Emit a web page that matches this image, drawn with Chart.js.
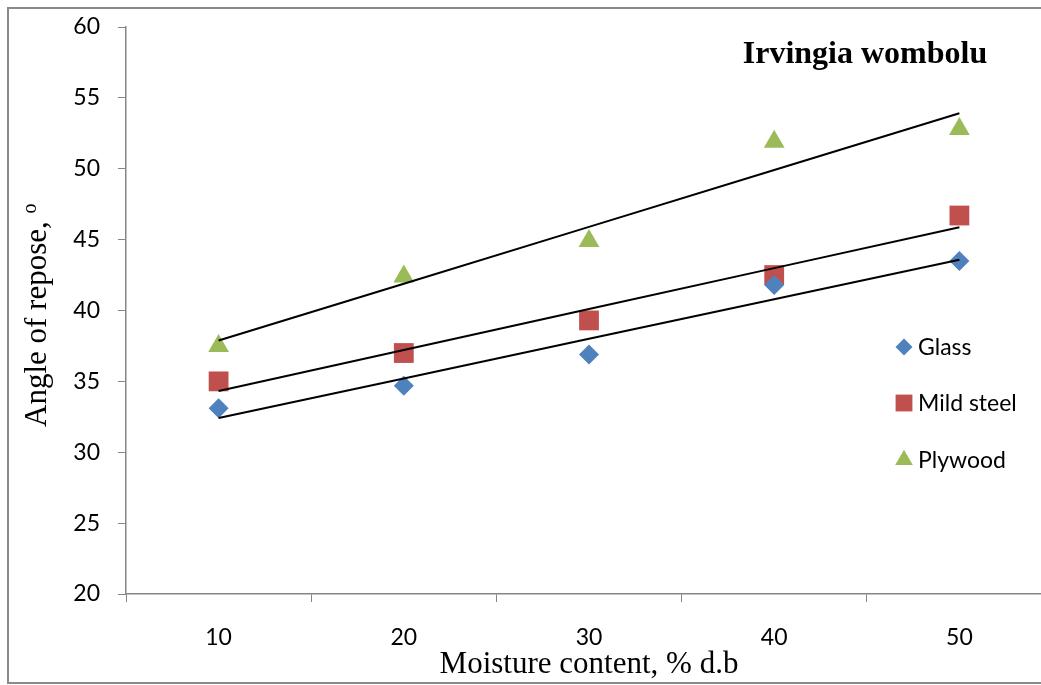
<!DOCTYPE html>
<html>
<head>
<meta charset="utf-8">
<script src="https://cdn.jsdelivr.net/npm/chart.js@4"></script>
<style>
  html, body { margin: 0; padding: 0; background: #fff; overflow: hidden; }
  canvas { display: block; }
</style>
</head>
<body>
<canvas id="c" width="1066" height="685"></canvas>
<script>
// Data
const categories = ['10', '20', '30', '40', '50'];
const glass = [33.1, 34.7, 36.9, 41.8, 43.5];
const mildSteel = [35.0, 37.0, 39.3, 42.5, 46.7];
const plywood = [37.5, 42.4, 44.9, 51.9, 52.8];
const seriesNames = ['Glass', 'Mild steel', 'Plywood'];
const yMin = 20, yMax = 60, yStep = 5;

const colors = ['#4F81BD', '#C0504D', '#9BBB59'];
const styles = ['rectRot', 'rect', 'triangle'];
const radii = [10, 14, 12];

// least squares trend over category index (like Excel's linear trendline)
function trend(vals) {
  const n = vals.length;
  const xs = vals.map((v, i) => i + 1);
  const mx = xs.reduce((a, b) => a + b, 0) / n;
  const my = vals.reduce((a, b) => a + b, 0) / n;
  let num = 0, den = 0;
  xs.forEach((x, i) => { num += (x - mx) * (vals[i] - my); den += (x - mx) * (x - mx); });
  const b = num / den;
  return xs.map(x => my + b * (x - mx));
}

const serif = "'Liberation Serif', 'Times New Roman', serif";
const sans = "Lato, 'Open Sans', sans-serif";

const series = [glass, mildSteel, plywood];
const datasets = [];
series.forEach((vals, i) => {
  datasets.push({
    label: seriesNames[i],
    data: vals,
    showLine: false,
    pointStyle: styles[i],
    pointRadius: radii[i],
    pointHoverRadius: radii[i],
    pointBackgroundColor: colors[i],
    pointBorderWidth: 0,
    order: 1
  });
});
series.forEach((vals, i) => {
  datasets.push({
    label: seriesNames[i] + ' trend',
    data: trend(vals),
    borderColor: '#000',
    borderWidth: 2,
    pointRadius: 0,
    fill: false,
    order: 0
  });
});

function noPad(s) {
  s.paddingTop = 0; s.paddingBottom = 0; s.paddingLeft = 0; s.paddingRight = 0;
}

const decor = {
  id: 'decor',
  beforeDraw(chart) {
    const ctx = chart.ctx;
    ctx.save();
    ctx.fillStyle = '#fff';
    ctx.fillRect(0, 0, chart.width, chart.height);
    ctx.strokeStyle = '#8a8a8a';
    ctx.lineWidth = 2;
    ctx.strokeRect(8, 8, 1100, 675);
    ctx.restore();
  },
  afterDraw(chart) {
    const ctx = chart.ctx;
    ctx.save();
    // title
    ctx.fillStyle = '#000';
    ctx.font = "bold 32px " + serif;
    ctx.textAlign = 'center';
    ctx.textBaseline = 'alphabetic';
    ctx.fillText('Irvingia wombolu', 865, 63);

    // y axis title with superscript
    ctx.translate(46, 427);
    ctx.rotate(-Math.PI / 2);
    ctx.textAlign = 'left';
    ctx.font = "31px " + serif;
    const main = 'Angle of repose, ';
    ctx.fillText(main, 0, 0);
    const w = ctx.measureText(main).width;
    ctx.font = "20px " + serif;
    ctx.fillText('o', w, -10);
    ctx.restore();

    // legend
    ctx.save();
    const ys = [347, 403, 460];
    seriesNames.forEach((name, i) => {
      ctx.fillStyle = colors[i];
      Chart.helpers.drawPoint(ctx, {
        pointStyle: styles[i], radius: radii[i] * 0.85, rotation: 0, borderWidth: 0
      }, 904, ys[i]);
      ctx.fillStyle = '#000';
      ctx.font = "23px " + sans;
      ctx.textAlign = 'left';
      ctx.textBaseline = 'middle';
      ctx.fillText(name, 918, ys[i] + 1);
    });
    ctx.restore();
  }
};

new Chart(document.getElementById('c'), {
  type: 'line',
  data: { labels: categories, datasets: datasets },
  options: {
    responsive: false,
    animation: false,
    devicePixelRatio: 1,
    layout: { padding: { left: 0, top: 27, right: 7, bottom: 1 } },
    plugins: { legend: { display: false }, tooltip: { enabled: false } },
    scales: {
      x: {
        type: 'category',
        offset: true,
        afterFit: s => { s.height = 90; noPad(s); },
        grid: { offset: true, drawOnChartArea: false, tickLength: 8, color: '#868686' },
        border: { color: '#868686', width: 1.5 },
        ticks: { color: '#000', font: { family: sans, size: 23 }, padding: 22 },
        title: { display: true, text: 'Moisture content, % d.b', color: '#000',
                 font: { family: serif, size: 31 }, padding: { top: 0, bottom: 1 } }
      },
      y: {
        min: yMin,
        max: yMax,
        afterFit: s => { s.width = 126; noPad(s); },
        grid: { drawOnChartArea: false, tickLength: 8, color: '#868686' },
        border: { color: '#868686', width: 1.5 },
        ticks: { stepSize: yStep, color: '#000', font: { family: sans, size: 23 }, padding: 18 }
      }
    }
  },
  plugins: [decor]
});
</script>
</body>
</html>
